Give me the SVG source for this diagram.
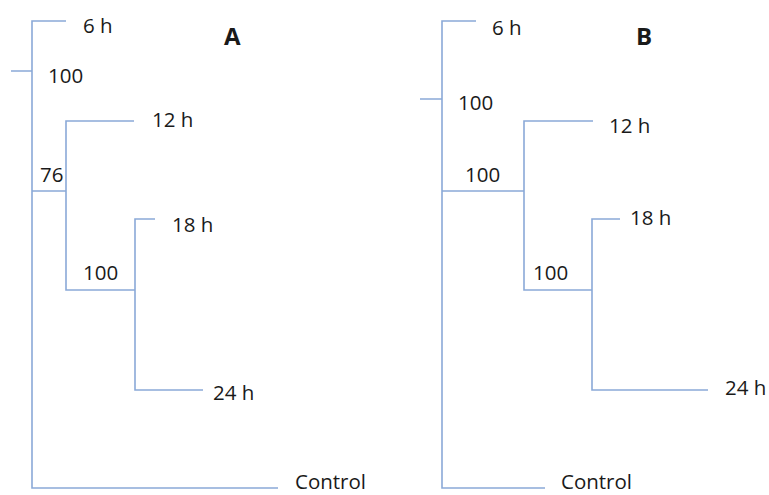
<svg xmlns="http://www.w3.org/2000/svg" width="769" height="495" viewBox="0 0 769 495">
<style>
.l{fill:none;stroke:#8aa9d8;stroke-width:1.6}
.t{font-family:"Open Sans","Liberation Sans",sans-serif;font-size:20.5px;fill:#1a1a1a}
.h{font-family:"Open Sans","Liberation Sans",sans-serif;font-size:24px;font-weight:bold;fill:#1a1a1a}
</style>
<rect width="769" height="495" fill="#fff"/>
<g id="connectors">
<path class="l" d="M11 71H32M66 21H32V488H278M32 191H66M134 121H66V290H135M155 219H135V390H203"/>
<path class="l" d="M420 99H442M476 21H442V488H545M442 191H524M593 121H524V290H592M620 219H592V390H708"/>
</g>
<g id="panelA">
<text class="h" x="224" y="45">A</text>
<g id="A-6h"><text class="t" x="83" y="33">6 h</text></g>
<g id="A-12h"><text class="t" x="152" y="127">12 h</text></g>
<g id="A-18h"><text class="t" x="172" y="232">18 h</text></g>
<g id="A-24h"><text class="t" x="213" y="400">24 h</text></g>
<g id="A-control"><text class="t" x="295" y="489">Control</text></g>
<g id="A-n1"><text class="t" x="48" y="83">100</text></g>
<g id="A-n2"><text class="t" x="40" y="182">76</text></g>
<g id="A-n3"><text class="t" x="83" y="280">100</text></g>
</g>
<g id="panelB">
<text class="h" x="636" y="45">B</text>
<g id="B-6h"><text class="t" x="492" y="35">6 h</text></g>
<g id="B-12h"><text class="t" x="609" y="133">12 h</text></g>
<g id="B-18h"><text class="t" x="630" y="225">18 h</text></g>
<g id="B-24h"><text class="t" x="725" y="395">24 h</text></g>
<g id="B-control"><text class="t" x="561" y="489">Control</text></g>
<g id="B-n1"><text class="t" x="458" y="110">100</text></g>
<g id="B-n2"><text class="t" x="465" y="182">100</text></g>
<g id="B-n3"><text class="t" x="533" y="280">100</text></g>
</g>
</svg>
